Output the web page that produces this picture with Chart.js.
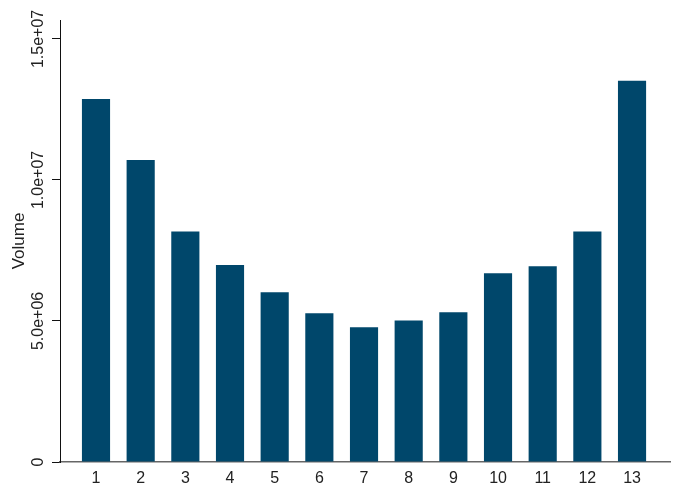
<!DOCTYPE html>
<html>
<head>
<meta charset="utf-8">
<script src="https://cdn.jsdelivr.net/npm/chart.js@4"></script>
<style>
  html, body { margin: 0; padding: 0; background: #fff; }
  #wrap { width: 675px; height: 489px; }
</style>
</head>
<body>
<div id="wrap"><canvas id="volChart" width="675" height="489"></canvas></div>
<script>
// data
const categories = [1, 2, 3, 4, 5, 6, 7, 8, 9, 10, 11, 12, 13];
const volumes = [12870000, 10710000, 8170000, 6980000, 6020000, 5270000, 4780000,
                 5020000, 5310000, 6690000, 6940000, 8170000, 13520000];
const yTickValues = [0, 5000000, 10000000, 15000000];
const yTickLabels = ["0", "5.0e+06", "1.0e+07", "1.5e+07"];

const barColor = "#00476B";
const fontFamily = "'Liberation Sans', Arial, sans-serif";

// y tick labels are drawn rotated, Stata style
const rotatedYLabels = {
  id: "rotatedYLabels",
  afterDraw(chart) {
    const ctx = chart.ctx;
    const y = chart.scales.y;
    ctx.save();
    ctx.fillStyle = "#222";
    ctx.font = "16px " + fontFamily;
    ctx.textAlign = "center";
    ctx.textBaseline = "middle";
    yTickValues.forEach((v, i) => {
      const py = y.getPixelForValue(v);
      ctx.save();
      ctx.translate(y.right - 21, py);
      ctx.rotate(-Math.PI / 2);
      ctx.fillText(yTickLabels[i], 0, 0);
      ctx.restore();
    });
    ctx.restore();
  }
};

new Chart(document.getElementById("volChart").getContext("2d"), {
  type: "bar",
  data: {
    datasets: [{
      data: categories.map((c, i) => ({ x: c, y: volumes[i] })),
      backgroundColor: barColor,
      categoryPercentage: 1,
      barPercentage: 0.63
    }]
  },
  options: {
    responsive: false,
    animation: false,
    layout: { padding: { top: 20, right: 5, left: 0, bottom: 0 } },
    plugins: { legend: { display: false }, tooltip: { enabled: false } },
    scales: {
      x: {
        type: "linear",
        offset: false,
        min: 0.194,
        max: 13.85,
        afterBuildTicks(scale) {
          scale.ticks = categories.map(c => ({ value: c }));
        },
        afterFit(scale) { scale.height = 27; },
        ticks: {
          color: "#222",
          font: { size: 16, family: fontFamily },
          padding: 7,
          maxRotation: 0,
          autoSkip: false,
          callback: v => String(v)
        },
        grid: { display: false, drawTicks: false },
        border: { display: true, color: "#666", width: 1.5 }
      },
      y: {
        min: 0,
        max: 15670000,
        afterBuildTicks(scale) {
          scale.ticks = yTickValues.map(v => ({ value: v }));
        },
        afterFit(scale) { scale.width = 60; },
        ticks: { display: false },
        grid: { drawOnChartArea: false, drawTicks: true, tickLength: 8, color: "#111" },
        border: { display: true, color: "#111", width: 1 },
        title: {
          display: true,
          text: "Volume",
          color: "#222",
          font: { size: 17, family: fontFamily },
          padding: { top: 9, bottom: 0 }
        }
      }
    }
  },
  plugins: [rotatedYLabels]
});
</script>
</body>
</html>
